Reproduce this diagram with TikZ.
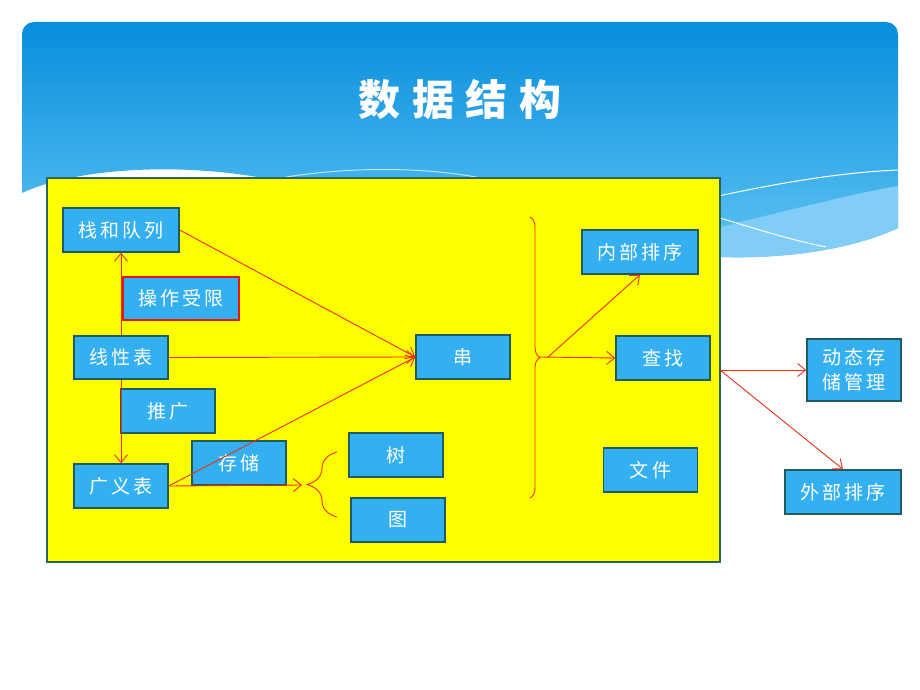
\documentclass[tikz,border=0pt]{standalone}
\usepackage{fontspec}
\usepackage{tikz}
\usetikzlibrary{arrows.meta, decorations.pathreplacing}

\newfontfamily\cjk[LetterSpace=16]{Noto Sans CJK SC}
\newfontfamily\cjktitle[LetterSpace=28]{Noto Sans CJK SC}

\definecolor{headtop}{RGB}{8,142,220}
\definecolor{headbot}{RGB}{96,196,244}
\definecolor{headlight}{RGB}{130,205,246}
\definecolor{panelyellow}{RGB}{255,255,0}
\definecolor{boxblue}{RGB}{52,176,240}
\definecolor{boxline}{RGB}{30,92,96}
\definecolor{panelline}{RGB}{40,100,100}
\definecolor{linkred}{RGB}{240,44,20}
\definecolor{limitred}{RGB}{228,22,22}

\begin{document}
\begin{tikzpicture}[x=1pt, y=-1pt,
	box/.style={draw=boxline, fill=boxblue, line width=1.4pt, text=white,
		inner sep=0pt, minimum width=94pt, minimum height=44pt,
		font=\cjk\fontsize{19}{25}\selectfont},
	wide/.style={box, minimum width=116pt},
	title/.style={text=white, font=\cjktitle\bfseries\fontsize{42}{48}\selectfont},
	link/.style={draw=linkred, line width=0.9pt, -{Straight Barb[length=8pt,width=13pt]}},
	curly/.style={draw=linkred, line width=0.9pt, decorate}]
	\useasboundingbox (0,0) rectangle (920,690);
	
	%header band
	\shade[top color=headtop, bottom color=headbot]
		(22,193) .. controls (80,166) and (200,160) .. (300,186) -- (700,256)
		.. controls (790,262) and (860,246) .. (898,228)
		{[rounded corners=12pt] -- (898,22) -- (22,22)} -- cycle;
	\fill[headlight] (700,232) .. controls (790,210) and (860,192) .. (898,186)
		-- (898,228) .. controls (860,246) and (790,262) .. (700,256) -- cycle;
	\draw[white, line width=1pt] (700,200) .. controls (790,180) and (850,172) .. (898,170);
	\draw[white, line width=1pt] (700,212) .. controls (740,224) and (790,240) .. (826,247);
	\draw[white!60!headbot, line width=1pt] (270,180) .. controls (340,166) and (430,166) .. (490,180);
	
	\node[title] (title) at (460,100) {数据结构};
	
	%yellow panel
	\draw[fill=panelyellow, draw=panelline, line width=1.4pt] (47,178) rectangle (720,562);
	
	%boxes
	\node[wide] (stack) at (121,230) {栈和队列};
	\node[wide, draw=limitred, minimum height=43pt] (limit) at (181,298.5) {操作受限};
	\node[box, minimum height=43pt] (linear) at (121,357.5) {线性表};
	\node[box] (extend) at (168,411) {推广};
	\node[box] (glist) at (121,486) {广义表};
	\node[box] (storage) at (239,463) {存储};
	\node[box] (tree) at (396,455) {树};
	\node[box] (graph) at (398,520) {图};
	\node[box] (string) at (463,357) {串};
	\node[wide] (isort) at (640,252) {内部排序};
	\node[box] (search) at (663,358) {查找};
	\node[box] (file) at (650.5,470) {文件};
	\node[box, minimum height=62pt, align=center] (dyn) at (854,370) {动态存\\储管理};
	\node[wide] (esort) at (843,492) {外部排序};
	
	\coordinate (tree tip) at (302,485);
	\coordinate (fork) at (540,357);
	\coordinate (fork up) at (548,357);
	\coordinate (exit) at (720,370);
	
	%braces
	\draw[curly, decoration={brace, amplitude=30pt}] (337,517) -- (337,452);
	\draw[curly, decoration={brace, amplitude=10pt}] (530,217) -- (530,498);
	
	%connectors
	\draw[link] (linear) -- (stack);
	\draw[link] (linear) -- (glist);
	\draw[link] (stack.east) -- (string.west);
	\draw[link] (linear.east) -- (string.west);
	\draw[link] (glist.east) -- (string.west);
	\draw[link] (glist.east) -- (tree tip);
	\draw[link] (fork) -- (search.west);
	\draw[link] (fork up) -- (isort.south);
	\draw[link] (exit) -- (dyn.west);
	\draw[link] (exit) -- (esort.north);
\end{tikzpicture}
\end{document}
